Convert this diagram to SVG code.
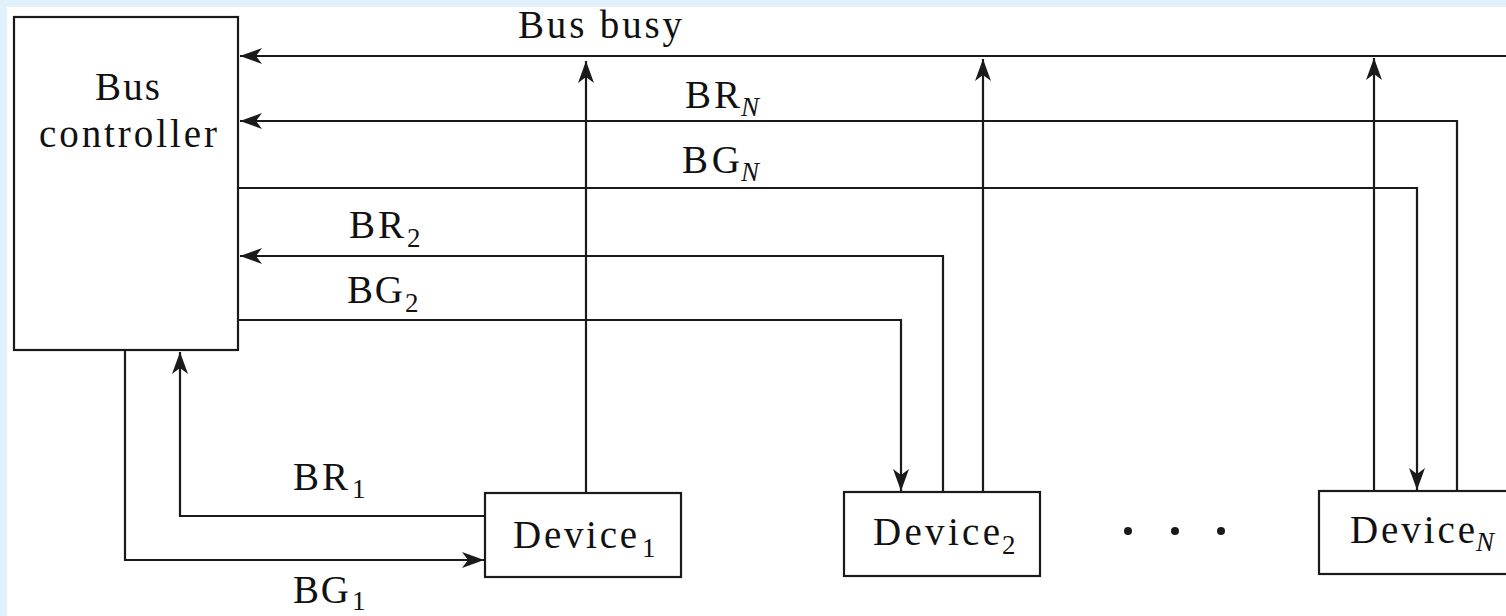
<svg xmlns="http://www.w3.org/2000/svg" width="1506" height="616" viewBox="0 0 1506 616">
<style>
.box{fill:#fff;stroke:#1a1a1a;stroke-width:2.2}
.ln{fill:none;stroke:#1a1a1a;stroke-width:2.2}
.t{font-family:"Liberation Serif","Times New Roman",serif;font-size:39px;fill:#111}
.s{font-size:27px}
.i{font-style:italic}
</style>
<defs>
<marker id="ah" viewBox="0 0 22 16" refX="22" refY="8" markerWidth="22" markerHeight="16" orient="auto" markerUnits="userSpaceOnUse">
<path d="M0,0 L22,8 L0,16 L6,8 z" fill="#1a1a1a"/>
</marker>
</defs>
<rect x="0" y="0" width="1506" height="616" fill="#e1f1fb"/>
<rect x="7" y="7" width="1499" height="609" fill="#fff"/>

<g id="connectors">
<path class="ln" d="M1506,56 H240" marker-end="url(#ah)"/>
<path class="ln" d="M586,493 V61" marker-end="url(#ah)"/>
<path class="ln" d="M983,492 V59" marker-end="url(#ah)"/>
<path class="ln" d="M1374,491 V58" marker-end="url(#ah)"/>
<path class="ln" d="M1457,491 V121 H240" marker-end="url(#ah)"/>
<path class="ln" d="M238,188 H1417 V490" marker-end="url(#ah)"/>
<path class="ln" d="M943,492 V256 H240" marker-end="url(#ah)"/>
<path class="ln" d="M238,320 H901 V491" marker-end="url(#ah)"/>
<path class="ln" d="M485,516 H180 V352" marker-end="url(#ah)"/>
<path class="ln" d="M125,350 V560 H484" marker-end="url(#ah)"/>
<text class="t" x="518" y="38" textLength="164" lengthAdjust="spacing">Bus busy</text>
<text class="t"><tspan x="685" y="108" textLength="55" lengthAdjust="spacing">BR</tspan><tspan class="s i" x="741" y="116">N</tspan></text>
<text class="t"><tspan x="682" y="173" textLength="58" lengthAdjust="spacing">BG</tspan><tspan class="s i" x="741" y="181">N</tspan></text>
<text class="t"><tspan x="349" y="238" textLength="55" lengthAdjust="spacing">BR</tspan><tspan class="s" x="407" y="247">2</tspan></text>
<text class="t"><tspan x="347" y="303" textLength="56" lengthAdjust="spacing">BG</tspan><tspan class="s" x="405" y="312">2</tspan></text>
<text class="t"><tspan x="293" y="490" textLength="55" lengthAdjust="spacing">BR</tspan><tspan class="s" x="352" y="498">1</tspan></text>
<text class="t"><tspan x="293" y="603" textLength="56" lengthAdjust="spacing">BG</tspan><tspan class="s" x="352" y="610">1</tspan></text>
</g>

<g id="bus-controller">
<rect class="box" x="14" y="17" width="224" height="333"/>
<text class="t" x="95" y="100" textLength="65" lengthAdjust="spacing">Bus</text>
<text class="t" x="39" y="147" textLength="178" lengthAdjust="spacing">controller</text>
</g>

<g id="device1">
<rect class="box" x="485" y="493" width="196" height="84"/>
<text class="t"><tspan x="513" y="548" textLength="124" lengthAdjust="spacing">Device</tspan><tspan class="s" x="642" y="557">1</tspan></text>
</g>

<g id="device2">
<rect class="box" x="844" y="492" width="196" height="84"/>
<text class="t"><tspan x="873" y="545" textLength="127" lengthAdjust="spacing">Device</tspan><tspan class="s" x="1002" y="554">2</tspan></text>
</g>

<g id="dots">
<circle cx="1128" cy="531" r="4" fill="#1a1a1a"/>
<circle cx="1175" cy="531" r="4" fill="#1a1a1a"/>
<circle cx="1221" cy="531" r="4" fill="#1a1a1a"/>
</g>

<g id="deviceN">
<rect class="box" x="1319" y="491" width="200" height="83"/>
<text class="t"><tspan x="1350" y="543" textLength="125" lengthAdjust="spacing">Device</tspan><tspan class="s i" x="1476" y="551">N</tspan></text>
</g>
</svg>
